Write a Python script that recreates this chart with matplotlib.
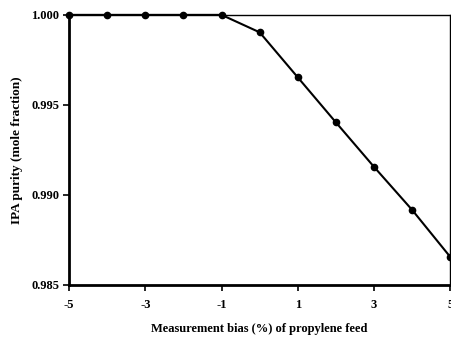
import matplotlib.pyplot as plt

# measurement bias (%) vs. IPA product purity
bias = [-5, -4, -3, -2, -1, 0, 1, 2, 3, 4, 5]
purity = [1.000, 1.000, 1.000, 1.000, 1.000, 0.99903, 0.99653, 0.99403,
          0.99156, 0.98917, 0.98656]

xticks = [-5, -3, -1, 1, 3, 5]
yticks = [0.985, 0.990, 0.995, 1.000]

plt.rcParams['font.family'] = ['Liberation Serif', 'DejaVu Serif']
plt.rcParams['font.weight'] = 'bold'

fig = plt.figure(figsize=(4.52, 3.38), dpi=100)
ax = fig.add_axes([0.153, 0.157, 0.843, 0.799])

ax.plot(bias, purity, color='black', lw=1.5, marker='o', markersize=4.5,
        clip_on=False, zorder=3)

ax.set_xlim(-5, 5)
ax.set_ylim(0.985, 1.000)
ax.set_xticks(xticks)
ax.set_xticklabels([str(t) for t in xticks])
ax.set_yticks(yticks)
ax.set_yticklabels(['%.3f' % t for t in yticks])
ax.tick_params(direction='out', length=4, width=1.2, labelsize=9)
ax.tick_params(axis='x', pad=6)
ax.tick_params(axis='y', pad=3)

for side in ['left', 'bottom']:
    ax.spines[side].set_linewidth(2.0)
for side in ['top', 'right']:
    ax.spines[side].set_linewidth(1.0)

ax.set_xlabel('Measurement bias (%) of propylene feed', fontsize=9,
              fontweight='bold', labelpad=9)
ax.set_ylabel('IPA purity (mole fraction)', fontsize=9.5,
              fontweight='bold', labelpad=6)

fig.savefig('out.png', dpi=100)
